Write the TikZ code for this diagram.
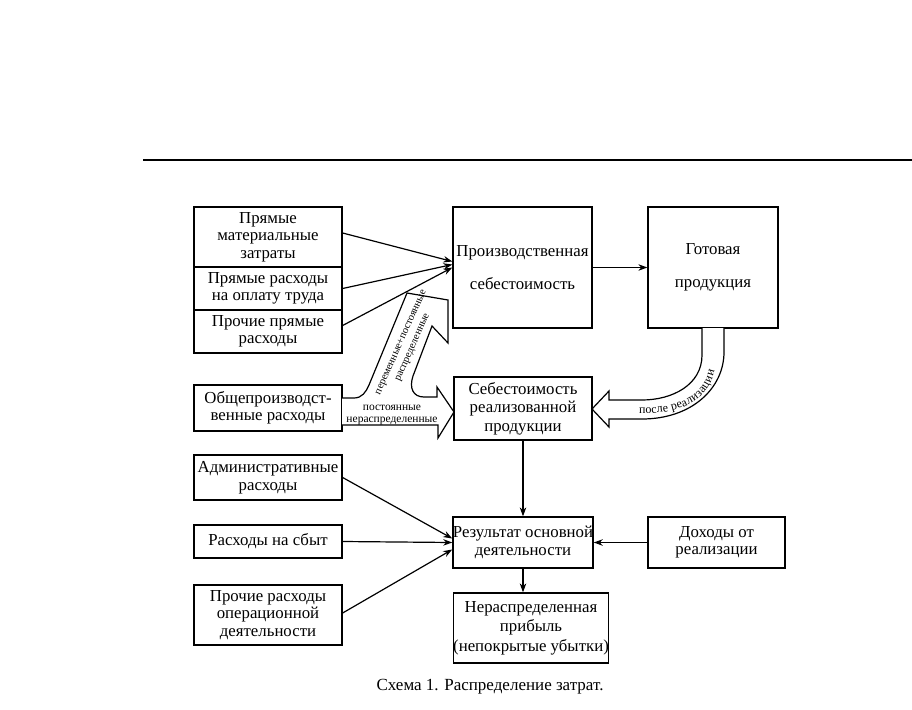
\documentclass[tikz,border=0pt]{standalone}
\usepackage{fontspec}
\setmainfont{Liberation Serif}
\usetikzlibrary{arrows.meta,decorations.text}
\begin{document}
\begin{tikzpicture}[x=1pt,y=-1pt,
  box/.style={draw, line width=1.3pt, fill=white, inner sep=0pt, align=center, font=\fontsize{16.8}{17.5}\selectfont},
  arr/.style={line width=1.2pt, -{Stealth[length=9pt,width=6.5pt]}},
  fat/.style={draw, line width=1.2pt, fill=white, line join=miter},
  small/.style={font=\fontsize{10.5}{12.5}\selectfont, inner sep=0pt, align=center}
]
\useasboundingbox (0,0) rectangle (912,709);
\draw[line width=1.6pt] (143,160) -- (912,160);

% upper left boxes
\node[box, minimum width=148pt, minimum height=60pt] (pm) at (268,237) {Прямые\\материальные\\затраты};
\node[box, minimum width=148pt, minimum height=43pt] (pr) at (268,288.5) {Прямые расходы\\на оплату труда};
\node[box, minimum width=148pt, minimum height=43pt] (pp) at (268,331.5) {Прочие прямые\\расходы};

\node[box, minimum width=139pt, minimum height=121pt] (ps) at (522.5,267.5) {Производственная\\[16pt]себестоимость};
\node[box, minimum width=130pt, minimum height=121pt] (gp) at (713,267.5) {Готовая\\[16pt]продукция};

\node[box, minimum width=148pt, minimum height=46pt] (op) at (268,408) {Общепроизводст-\\венные расходы};
\node[box, minimum width=138pt, minimum height=63pt, font=\fontsize{16.8}{18.5}\selectfont] (sr) at (523,408.5) {Себестоимость\\реализованной\\продукции};

\node[box, minimum width=148pt, minimum height=45pt] (ar) at (268,477.5) {Административные\\расходы};
\node[box, minimum width=148pt, minimum height=33pt] (rs) at (268,541.5) {Расходы на сбыт};
\node[box, minimum width=148pt, minimum height=60pt] (po) at (268,615) {Прочие расходы\\операционной\\деятельности};

\node[box, minimum width=138pt, minimum height=51pt] (ro) at (523,542.5) {Результат основной\\деятельности};
\node[box, minimum width=137pt, minimum height=51pt] (dr) at (716.5,542.5) {Доходы от\\реализации};
\node[box, minimum width=154pt, minimum height=70pt, font=\fontsize{16.8}{19.5}\selectfont] (np) at (531,628) {Нераспределенная\\прибыль\\(непокрытые убытки)};

% thin arrows
\draw[arr] ([yshift=4pt]pm.east) -- ([yshift=6pt]ps.west);
\draw[arr] (pr.east) -- ([yshift=3pt]ps.west);
\draw[arr] ([yshift=6pt]pp.east) -- ([yshift=0pt]ps.west);
\draw[arr] (ps.east) -- (gp.west);
\draw[arr] (sr.south) -- (ro.north);
\draw[arr] (ro.south) -- (ro.south |- np.north);
\draw[arr] (dr.west) -- (ro.east);
\draw[arr] (ar.east) -- ([yshift=4pt]ro.west);
\draw[arr] (rs.east) -- (ro.west);
\draw[arr] ([yshift=2pt]po.east) -- ([yshift=-7pt]ro.west);

% fat arrow from overhead costs
\draw[fat] (342,398) -- (354,398) .. controls (362,398) and (366,392) .. (369,385) -- (407,293) -- (448,300) -- (448,343) -- (432,326) -- (413,376) .. controls (409,388) and (413,397) .. (424,397) -- (437,397) -- (437,387) -- (454,412) -- (438,438) -- (438,425) -- (342,425);
\node[small, rotate=66] (t1) at (407,345) {переменные+постоянные\\распределенные};
\node[small, font=\fontsize{11.5}{12}\selectfont] (t2) at (392,415) {постоянные\\нераспределенные};

% curved fat arrow
\draw[fat] (702,328) -- (702,355) .. controls (702,385) and (672,400) .. (642,400) -- (609,400) -- (609,391) -- (592,409) -- (609,427) -- (609,419) -- (642,419) .. controls (692,419) and (724,388) .. (724,352) -- (724,328);
\path[decorate, decoration={text along path, text format delimiters={|}{|}, text={|\fontsize{12}{12}\selectfont|после реализации}, text align=center, raise=-3.5pt}] (603,410) -- (642,410) .. controls (697,410) and (713,386) .. (713,352) -- (713,334);

\node[font=\fontsize{17}{19}\selectfont] (cap) at (490,687) {Схема 1. Распределение затрат.};
\end{tikzpicture}
\end{document}
